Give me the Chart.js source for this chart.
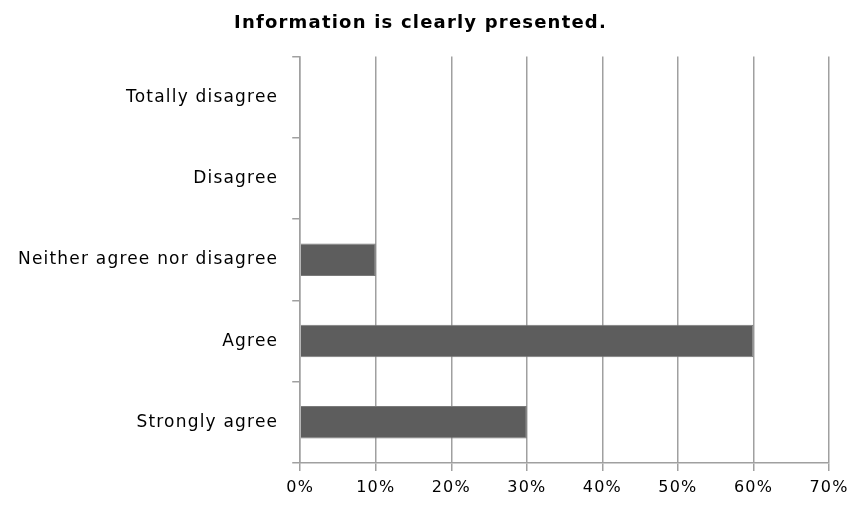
<!DOCTYPE html>
<html>
<head>
<meta charset="utf-8">
<script src="https://cdn.jsdelivr.net/npm/chart.js@4/dist/chart.umd.min.js"></script>
<style>
html,body{margin:0;padding:0;background:#fff;}
#wrap{width:852px;height:505px;}
</style>
</head>
<body>
<div id="wrap"><canvas id="c" width="852" height="505"></canvas></div>
<script>
const categories = ["Totally disagree", "Disagree", "Neither agree nor disagree", "Agree", "Strongly agree"];
const values = [0, 0, 10, 60, 30];
const xTicks = [0, 10, 20, 30, 40, 50, 60, 70];
const titleText = "Information is clearly presented.";

const gridGray = "#a0a0a0";
const spacingPlugin = {
  id: "spacing",
  beforeInit(chart) { chart.ctx.letterSpacing = "1.2px"; },
  beforeUpdate(chart) { chart.ctx.letterSpacing = "1.2px"; },
  beforeLayout(chart) { chart.ctx.letterSpacing = "1.2px"; },
  afterLayout(chart) {
    if (chart.titleBlock) { chart.titleBlock.left += 4; chart.titleBlock.right += 4; }
  },
  beforeDraw(chart) { chart.ctx.letterSpacing = "1.2px"; }
};

new Chart(document.getElementById("c"), {
  type: "bar",
  plugins: [spacingPlugin],
  data: {
    labels: categories,
    datasets: [{
      data: values,
      backgroundColor: "#5d5d5d",
      borderColor: "#7a7a7a",
      borderWidth: 1,
      barPercentage: 0.4,
      categoryPercentage: 1.0
    }]
  },
  options: {
    indexAxis: "y",
    responsive: false,
    animation: false,
    layout: { padding: { left: 4, right: 23, top: 9, bottom: 0 } },
    plugins: {
      legend: { display: false },
      tooltip: { enabled: false },
      title: {
        display: true,
        text: titleText,
        color: "#000",
        font: { family: "DejaVu Sans", size: 18, weight: "bold" },
        padding: { top: 4, bottom: 22 }
      }
    },
    scales: {
      x: {
        min: xTicks[0],
        max: xTicks[xTicks.length - 1],
        afterBuildTicks: (axis) => { axis.ticks = xTicks.map(v => ({ value: v })); },
        afterFit: (scale) => { scale.paddingRight = 0; },
        ticks: {
          callback: (v) => v + "%",
          color: "#000",
          font: { family: "DejaVu Sans", size: 16, lineHeight: 1.0 },
          padding: 9,
          maxRotation: 0
        },
        grid: { color: gridGray, lineWidth: 1.5, tickLength: 8, tickColor: gridGray },
        border: { color: gridGray, width: 1.5 }
      },
      y: {
        ticks: {
          color: "#000",
          font: { family: "DejaVu Sans", size: 17 },
          padding: 14
        },
        grid: { offset: true, drawOnChartArea: false, tickLength: 8, tickColor: gridGray, lineWidth: 1.5 },
        border: { color: gridGray, width: 1.5 }
      }
    }
  }
});
</script>
</body>
</html>
